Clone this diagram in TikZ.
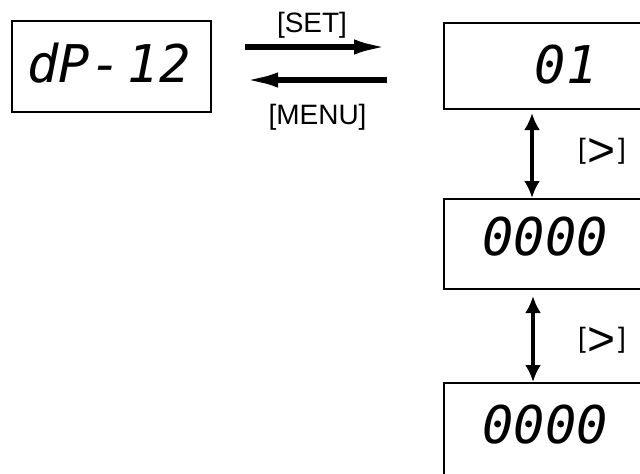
\documentclass[tikz,border=0pt]{standalone}
\usepackage{fontspec}
\setmainfont{Liberation Sans}
\newfontfamily\lcdfont{DejaVu Sans Mono}[UprightFont={* Oblique}]
\usetikzlibrary{arrows.meta,positioning}

\begin{document}
\begin{tikzpicture}[x=0.5pt,y=-0.5pt,>=Latex,
  lcd/.style={draw,line width=1pt,minimum width=101pt,minimum height=45pt,inner sep=0pt},
  digits/.style={font=\lcdfont\fontsize{26}{26}\selectfont,inner sep=0pt},
  key/.style={font=\fontsize{14}{14}\selectfont,inner sep=0pt},
  flow/.style={line width=3pt,-{Latex[length=18pt,width=7.5pt]}},
  toggle/.style={line width=1.8pt,{Latex[length=8.5pt,width=8pt]}-{Latex[length=8.5pt,width=8pt]}}]
\useasboundingbox (0,0) rectangle (640,473);
\clip (0,0) rectangle (640,473);

% display boxes
\node[lcd,minimum width=99.5pt,minimum height=45.5pt] (dp) at (111.5,66.5) {};
\node[lcd,minimum height=43pt] (r1) at (545,66) {};
\node[lcd] (r2) at (545,244) {};
\node[lcd,minimum height=50pt] (r3) at (545,433) {};

\node[digits] (dptxt) at (109,63.5) {dP-\hspace{0.12em}12};
\node[digits] (r1txt) at (566,65) {01};
\node[digits] (r2txt) at (545,237) {0000};
\node[digits] (r3txt) at (545,425) {0000};

% SET / MENU
\coordinate (setA) at (245,47);
\coordinate (setB) at (390,47);
\coordinate (menuA) at (387,80);
\coordinate (menuB) at (242,80);
\draw[flow] (setA) -- (setB);
\draw[flow] (menuA) -- (menuB);
\node[key] (setlab) at (312,25) {[SET]};
\node[key] (menulab) at (317.5,117) {[MENU]};

% [>] steps
\draw[toggle,shorten <=1.5pt] ([xshift=-6.5pt]r1.south) -- ([xshift=-6.5pt]r2.north);
\draw[toggle,shorten <=3pt] ([xshift=-6pt]r2.south) -- ([xshift=-6pt]r3.north);
\node[key] (next1) at (602,152) {[\kern1pt\raisebox{-3.8pt}{\fontsize{24}{24}\selectfont>}\kern1pt]};
\node[key] (next2) at (602,341) {[\kern1pt\raisebox{-3.8pt}{\fontsize{24}{24}\selectfont>}\kern1pt]};
\end{tikzpicture}
\end{document}
